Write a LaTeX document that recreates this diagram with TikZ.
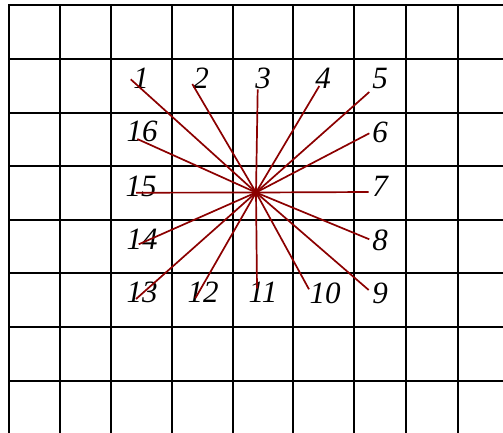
\documentclass[tikz,border=0pt]{standalone}
\usepackage{fontspec}
\setmainfont{Liberation Serif}
\definecolor{raycol}{RGB}{139,0,0}
\begin{document}
\begin{tikzpicture}[x=1pt,y=-1pt,
  gridline/.style={line width=2.3pt,black,line cap=rect},
  ray/.style={line width=1.7pt,raycol},
  lbl/.style={inner sep=0pt,font=\fontsize{31}{32}\selectfont\itshape}]
\useasboundingbox (0,0) rectangle (503,432);
% grid
\foreach \gx in {9,60,111,172,233,293,354,406,458}
  \draw[gridline] (\gx,5) -- (\gx,433);
\foreach \gy in {5,59,113,166,220,273,327,381}
  \draw[gridline] (9,\gy) -- (504,\gy);
% labels
\node[lbl] (l1) at (141,78) {1};
\node[lbl] (l2) at (201,78) {2};
\node[lbl] (l3) at (263,78) {3};
\node[lbl] (l4) at (323,78) {4};
\node[lbl] (l5) at (380,78) {5};
\node[lbl] (l6) at (380,132) {6};
\node[lbl] (l7) at (380,186) {7};
\node[lbl] (l8) at (380,240) {8};
\node[lbl] (l9) at (380,293) {9};
\node[lbl] (l10) at (325,293) {10};
\node[lbl] (l11) at (263,292) {11};
\node[lbl] (l12) at (203,292) {12};
\node[lbl] (l13) at (142,292) {13};
\node[lbl] (l14) at (142,239) {14};
\node[lbl] (l15) at (141,186) {15};
\node[lbl] (l16) at (142,131) {16};
% ray ends
\coordinate (c) at (256,192.5);
\coordinate (e1) at (130.7,79.3);
\coordinate (e2) at (192.3,84);
\coordinate (e3) at (257.7,89.3);
\coordinate (e4) at (319.3,86);
\coordinate (e5) at (369.3,92);
\coordinate (e6) at (369.3,133.3);
\coordinate (e7) at (368.7,192);
\coordinate (e8) at (369.3,239.3);
\coordinate (e9) at (368.7,290);
\coordinate (e10) at (309,289.3);
\coordinate (e11) at (257,288.3);
\coordinate (e12) at (195.3,298.3);
\coordinate (e13) at (136,299);
\coordinate (e14) at (138.7,244.3);
\coordinate (e15) at (136,192.7);
\coordinate (e16) at (137.3,139);
\foreach \i in {1,...,16}
  \draw[ray] (c) -- (e\i);
\end{tikzpicture}
\end{document}
